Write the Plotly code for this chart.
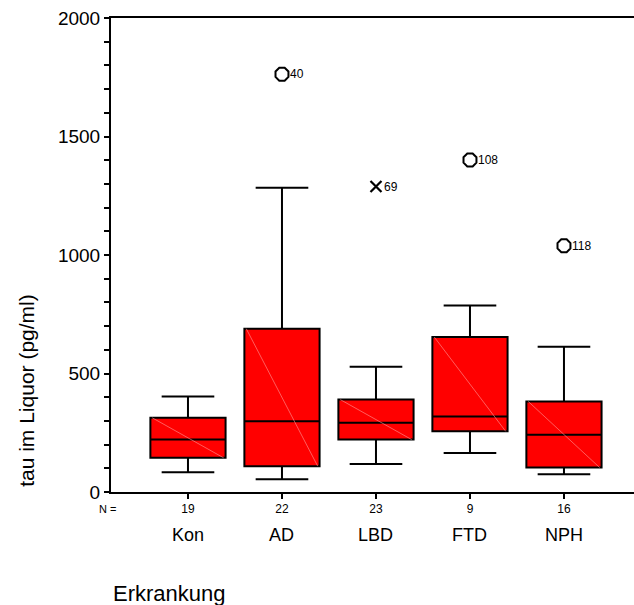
import plotly.graph_objects as go

# ---- data ----
categories = ["Kon", "AD", "LBD", "FTD", "NPH"]
n_counts = ["19", "22", "23", "9", "16"]
lower_whisker = [83, 54, 118, 165, 75]
q1_vals = [144, 109, 221, 256, 103]
medians = [221, 299, 292, 319, 242]
q3_vals = [313, 689, 390, 654, 382]
upper_whisker = [403, 1284, 528, 787, 613]

outlier_cat = [1, 3, 4]          # index into categories
outlier_vals = [1763, 1401, 1039]
outlier_ids = ["40", "108", "118"]

extreme_cat = [2]
extreme_vals = [1289]
extreme_ids = ["69"]

y_tick_vals = list(range(0, 2001, 100))
y_tick_text = [str(v) if v % 500 == 0 else "" for v in y_tick_vals]

FONT = "Liberation Sans, Arial, Helvetica, sans-serif"
pos = list(range(len(categories)))
BOX_W = 0.8

fig = go.Figure()

fig.add_trace(go.Box(
    x=pos, q1=q1_vals, median=medians, q3=q3_vals,
    lowerfence=lower_whisker, upperfence=upper_whisker,
    width=BOX_W, whiskerwidth=0.7,
    fillcolor="#FF0000", line=dict(color="black", width=2),
    boxpoints=False, showlegend=False, hoverinfo="skip",
))

# faint diagonal hatch line inside each box (top-left to bottom-right)
dx, dy = [], []
for p, a, b in zip(pos, q3_vals, q1_vals):
    dx += [p - BOX_W / 2 + 0.02, p + BOX_W / 2 - 0.02, None]
    dy += [a, b, None]
fig.add_trace(go.Scatter(x=dx, y=dy, mode="lines",
                         line=dict(color="#FF9A9A", width=0.6),
                         showlegend=False, hoverinfo="skip"))

fig.add_trace(go.Scatter(
    x=outlier_cat, y=outlier_vals, mode="markers",
    marker=dict(symbol="octagon-open", size=14, color="black",
                line=dict(color="black", width=2)),
    showlegend=False, hoverinfo="skip"))
fig.add_trace(go.Scatter(
    x=extreme_cat, y=extreme_vals, mode="markers",
    marker=dict(symbol="x-thin-open", size=11, color="black",
                line=dict(color="black", width=2.2)),
    showlegend=False, hoverinfo="skip"))

for c, v, t in zip(outlier_cat + extreme_cat, outlier_vals + extreme_vals,
                   outlier_ids + extreme_ids):
    fig.add_annotation(x=c, y=v, text=t, showarrow=False, xanchor="left",
                       yanchor="middle", xshift=6,
                       font=dict(family=FONT, size=12, color="black"))

# category names under the N row
for p, name in zip(pos, categories):
    fig.add_annotation(x=p, xref="x", y=0, yref="paper", text=name,
                       showarrow=False, xanchor="center", yanchor="middle",
                       yshift=-43, font=dict(family=FONT, size=18, color="black"))

fig.add_annotation(x=-0.006, xref="paper", y=0, yref="paper", text="N =",
                   showarrow=False, xanchor="center", yanchor="middle",
                   yshift=-17, font=dict(family=FONT, size=11, color="black"))

fig.add_annotation(x=0.0, xref="paper", y=0, yref="paper", text="Erkrankung",
                   showarrow=False, xanchor="left", yanchor="middle",
                   yshift=-101, font=dict(family=FONT, size=22, color="black"))

fig.add_annotation(x=-0.163, xref="paper", y=0.215, yref="paper",
                   text="tau im Liquor (pg/ml)", textangle=-90,
                   showarrow=False, xanchor="center", yanchor="middle",
                   font=dict(family=FONT, size=21, color="black"))

fig.update_layout(
    width=634, height=605,
    margin=dict(l=111, r=0, t=18, b=113, pad=0),
    paper_bgcolor="white", plot_bgcolor="white",
    font=dict(family=FONT, color="black"),
    showlegend=False,
)
fig.update_xaxes(
    range=[-0.819, 4.745], tickvals=pos, ticktext=n_counts,
    tickfont=dict(family=FONT, size=12, color="black"),
    ticks="outside", ticklen=5, tickwidth=1.5, tickcolor="black",
    showline=True, linecolor="black", linewidth=2, mirror=True,
    showgrid=False, zeroline=False,
)
fig.update_yaxes(
    range=[0, 2000], tickvals=y_tick_vals, ticktext=y_tick_text,
    tickfont=dict(family=FONT, size=19, color="black"),
    ticks="outside", ticklen=5, tickwidth=2, tickcolor="black",
    showline=True, linecolor="black", linewidth=2, mirror=False,
    showgrid=False, zeroline=False,
)

fig.write_html("out.html", config={"staticPlot": True, "displayModeBar": False})
